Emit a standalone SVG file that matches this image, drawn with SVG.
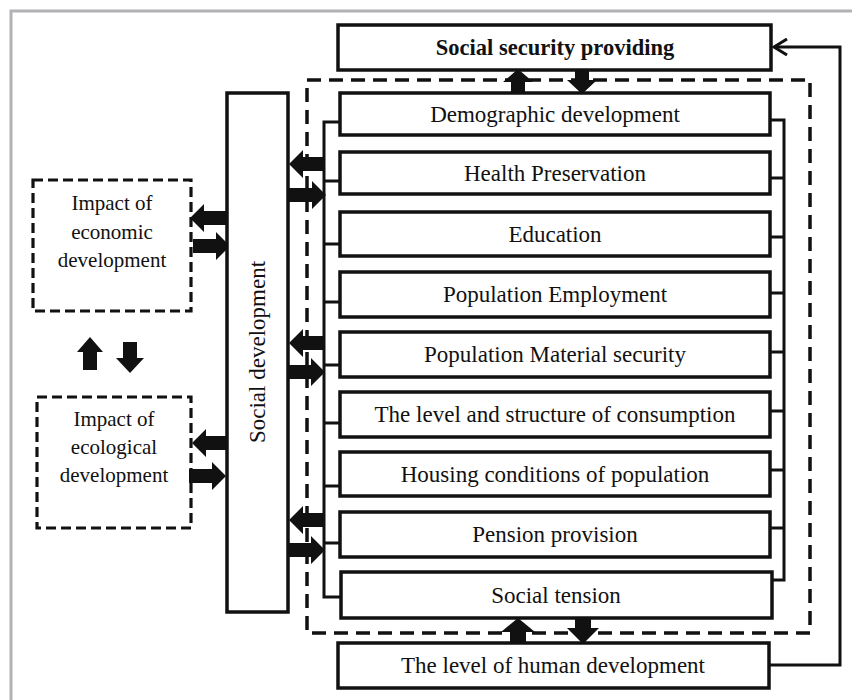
<svg xmlns="http://www.w3.org/2000/svg" width="852" height="700" viewBox="0 0 852 700">
<defs>
<style>
.box{fill:#fff;stroke:#111;stroke-width:3.5}
.dbox{fill:none;stroke:#111;stroke-width:3.2;stroke-dasharray:10 5}
.outer{fill:none;stroke:#111;stroke-width:3.5;stroke-dasharray:14 8}
text{font-family:'Liberation Serif','Times New Roman','DejaVu Serif',serif;fill:#111;text-anchor:middle}
.t{font-size:23px}
.ts{font-size:21px}
.b{font-weight:bold;font-size:22.5px}
.ln{fill:none;stroke:#111;stroke-width:3}
.ar{fill:#111;stroke:none}
</style>
<marker id="open" markerWidth="16" markerHeight="18" refX="14" refY="9" orient="auto" markerUnits="userSpaceOnUse">
<path d="M1,1 L14,9 L1,17" fill="none" stroke="#111" stroke-width="3"/>
</marker>
</defs>
<rect width="852" height="700" fill="#fff"/>
<path d="M852,11 H11 V700" fill="none" stroke="#b2b2b6" stroke-width="3"/>

<g id="outer-frame"><rect class="outer" x="307" y="80" width="503" height="553"/></g>

<g id="connectors">
<path class="ln" d="M340,122 H324 V597 H340 M324,181 H340 M324,244 H340 M324,302 H340 M324,365 H340 M324,423 H340 M324,486 H340 M324,543 H340"/>
<path class="ln" d="M770,120 H784 V580 H771 M770,178 H784 M770,237 H784 M770,293 H784 M770,352 H784 M770,411 H784 M770,470 H784 M770,528 H784"/>
<polyline class="ln" points="769,665 840,665 840,47 774,47" marker-end="url(#open)"/>
<path class="ar" d="M227,211 H204 V204 L190,218 L204,232 V225 H227 Z"/>
<path class="ar" d="M193,239 H216 V232 L230,246 L216,260 V253 H193 Z"/>
<path class="ar" d="M227,436 H206 V429 L192,443 L206,457 V450 H227 Z"/>
<path class="ar" d="M189,469 H212 V462 L226,476 L212,490 V483 H189 Z"/>
<path class="ar" d="M83,370 V352 H77 L90,337 L103,352 H97 V370 Z"/>
<path class="ar" d="M123,342 V358 H116 L130,373 L144,358 H137 V342 Z"/>
<path class="ar" d="M324,157 H303 V150 L289,164 L303,178 V171 H324 Z"/>
<path class="ar" d="M287,188 H312 V181 L326,195 L312,209 V202 H287 Z"/>
<path class="ar" d="M324,336 H303 V329 L289,343 L303,357 V350 H324 Z"/>
<path class="ar" d="M287,365 H311 V358 L325,372 L311,386 V379 H287 Z"/>
<path class="ar" d="M324,513 H303 V506 L289,520 L303,534 V527 H324 Z"/>
<path class="ar" d="M287,543 H311 V536 L325,550 L311,564 V557 H287 Z"/>
<path class="ar" d="M511,93 V82 H503 L518,69 L533,82 H525 V93 Z"/>
<path class="ar" d="M575,70 V80 H567 L582,94 L597,80 H589 V70 Z"/>
<path class="ar" d="M510,643 V632 H501 L518,618 L535,632 H526 V643 Z"/>
<path class="ar" d="M575,618 V628 H567 L583,644 L599,628 H591 V618 Z"/>
</g>

<g id="social-security"><rect class="box" x="338" y="25" width="433" height="45"/><text class="b" x="555" y="55">Social security providing</text></g>
<g id="demographic"><rect class="box" x="340" y="93" width="430" height="42"/><text class="t" x="555" y="122">Demographic development</text></g>
<g id="health"><rect class="box" x="340" y="152" width="430" height="42"/><text class="t" x="555" y="181">Health Preservation</text></g>
<g id="education"><rect class="box" x="340" y="212" width="430" height="44"/><text class="t" x="555" y="242">Education</text></g>
<g id="employment"><rect class="box" x="340" y="272" width="430" height="45"/><text class="t" x="555" y="302">Population Employment</text></g>
<g id="material"><rect class="box" x="340" y="332" width="430" height="45"/><text class="t" x="555" y="362">Population Material security</text></g>
<g id="consumption"><rect class="box" x="340" y="392" width="430" height="45"/><text class="t" x="555" y="422">The level and structure of consumption</text></g>
<g id="housing"><rect class="box" x="340" y="452" width="430" height="44"/><text class="t" x="555" y="482">Housing conditions of population</text></g>
<g id="pension"><rect class="box" x="340" y="512" width="430" height="45"/><text class="t" x="555" y="542">Pension provision</text></g>
<g id="tension"><rect class="box" x="341" y="572" width="431" height="46"/><text class="t" x="556" y="603">Social tension</text></g>
<g id="human"><rect class="box" x="338" y="643" width="431" height="45"/><text class="t" x="553" y="673">The level of human development</text></g>

<g id="social-development"><rect class="box" x="227" y="93" width="61" height="519"/><text class="t" transform="translate(265,352) rotate(-90)">Social development</text></g>

<g id="economic"><rect class="dbox" x="33" y="180" width="158" height="131"/>
<text class="ts" x="112" y="210">Impact of</text><text class="ts" x="112" y="239">economic</text><text class="ts" x="112" y="267">development</text></g>
<g id="ecological"><rect class="dbox" x="37" y="397" width="154" height="131"/>
<text class="ts" x="114" y="426">Impact of</text><text class="ts" x="114" y="454">ecological</text><text class="ts" x="114" y="482">development</text></g>
</svg>
